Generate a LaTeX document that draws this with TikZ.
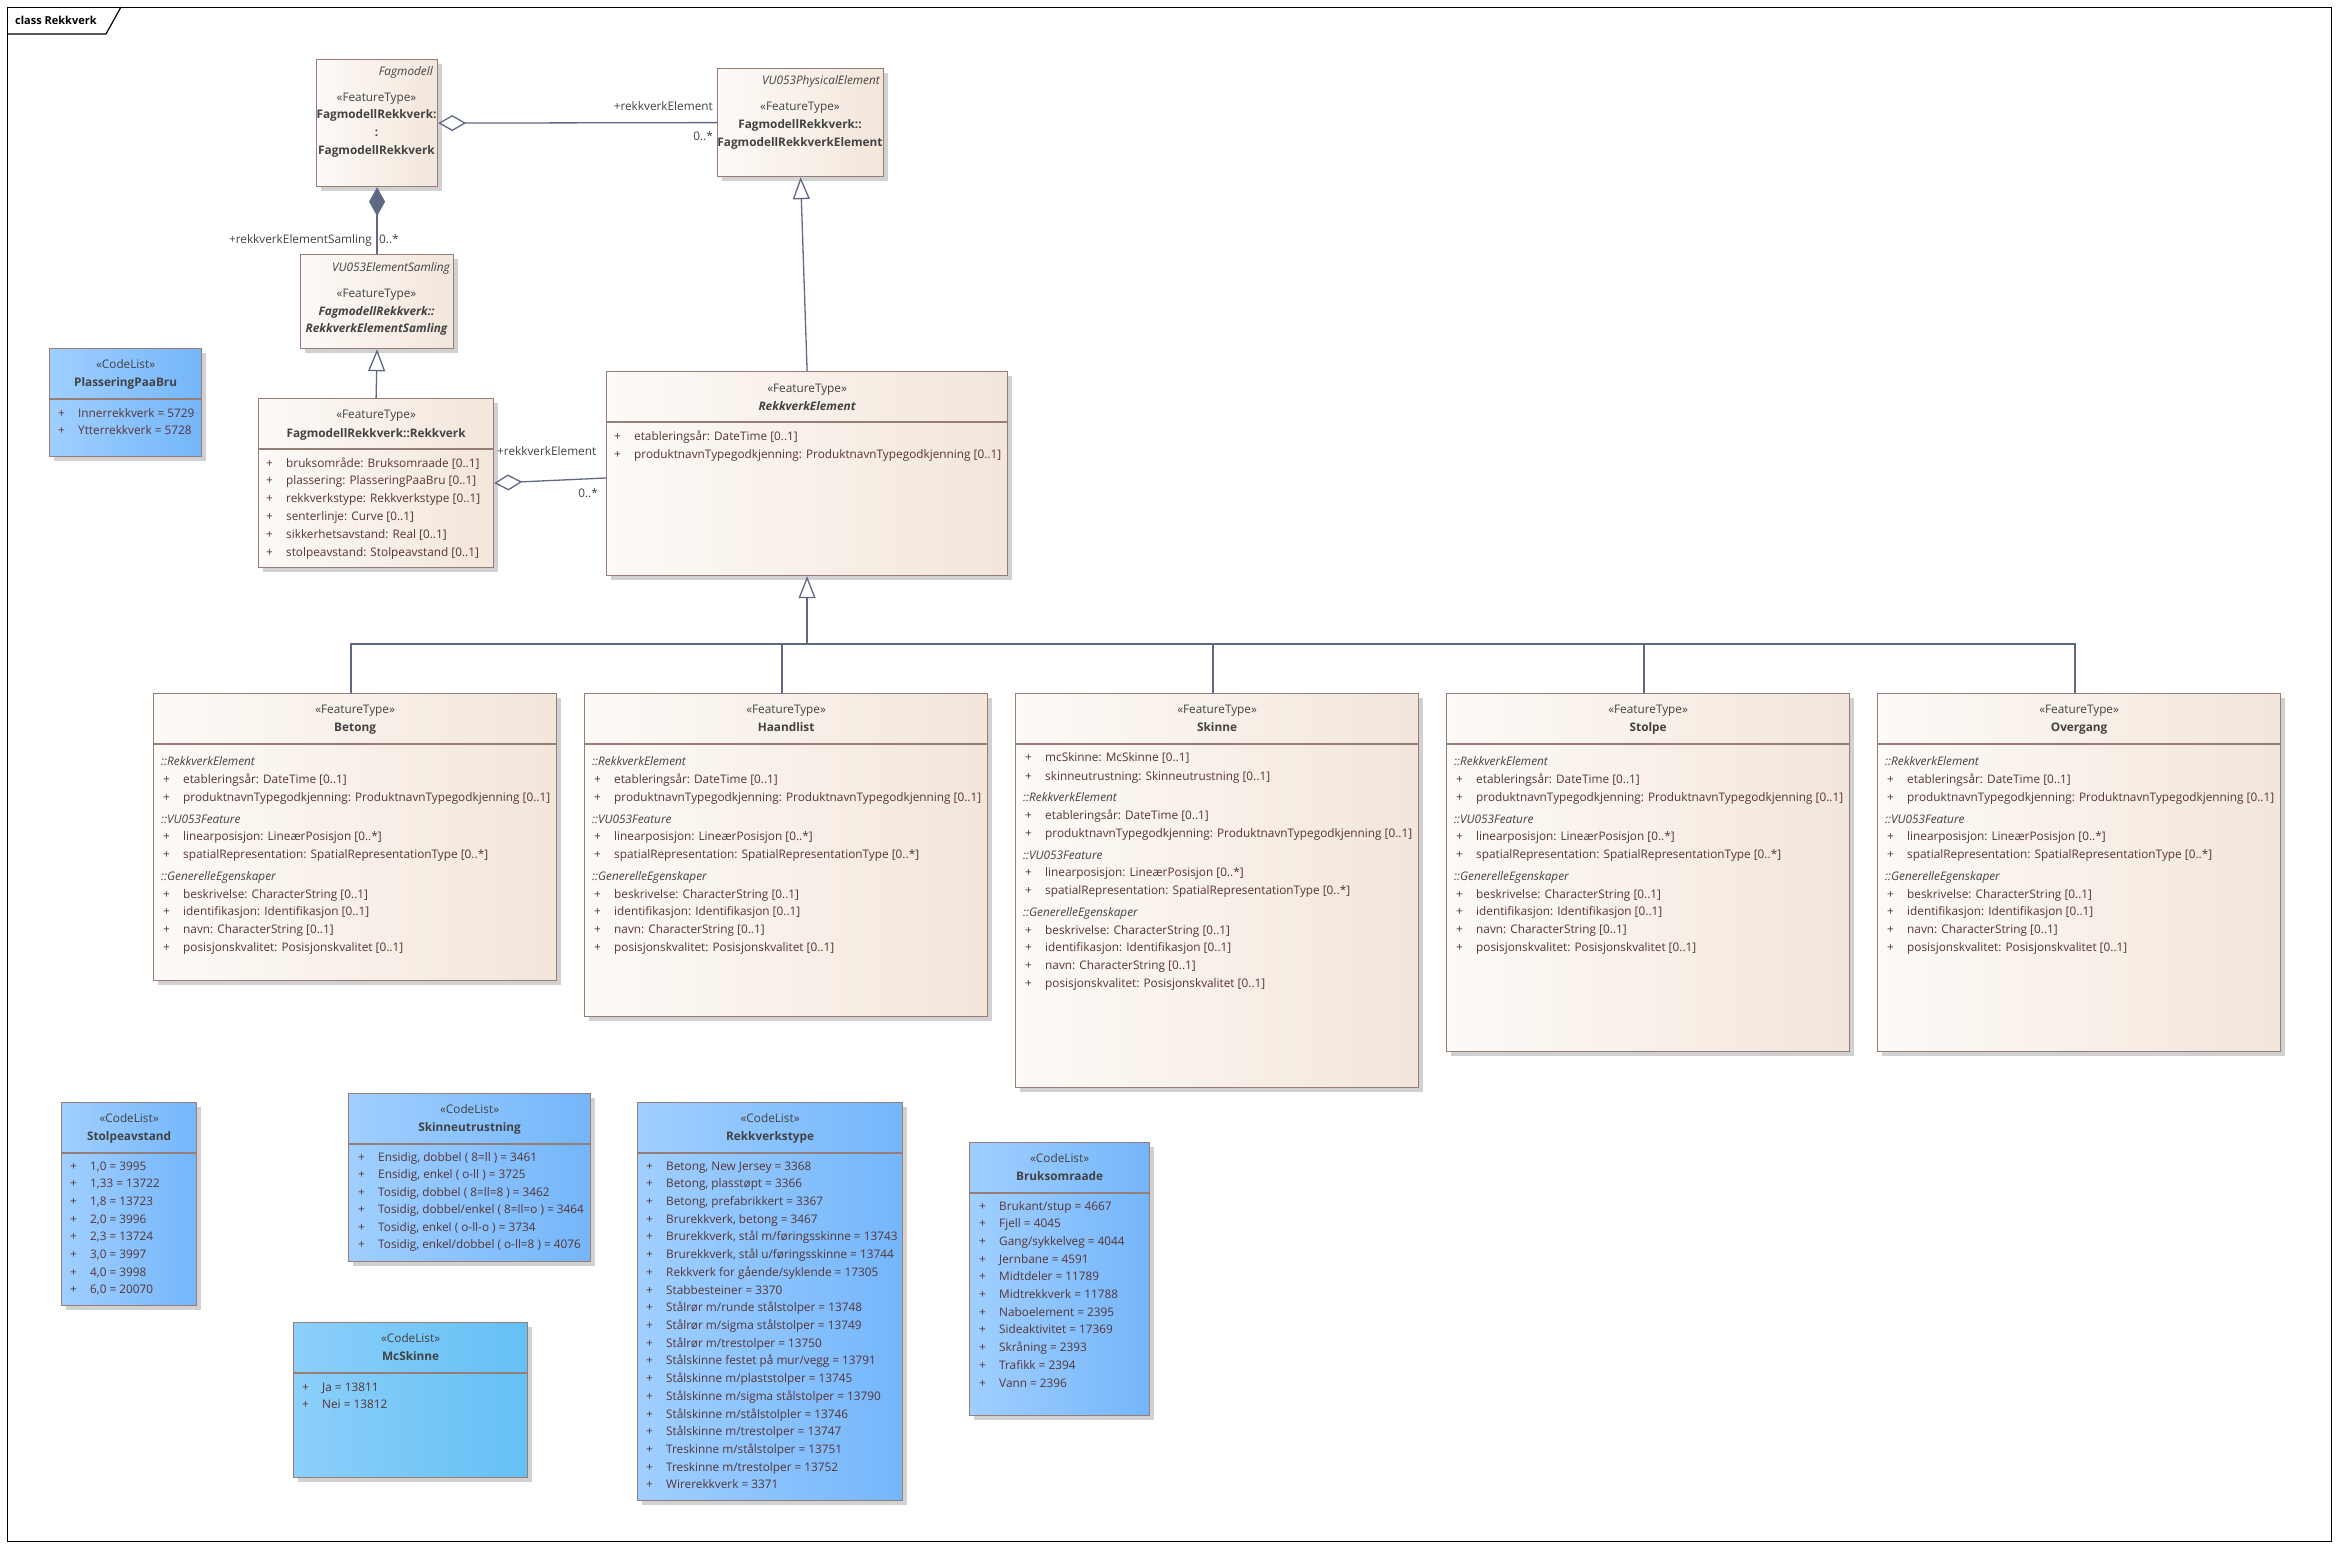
\documentclass[tikz,border=0pt]{standalone}
\usepackage{fontspec}
\setmainfont{Open Sans}
\usetikzlibrary{positioning,shadows,arrows.meta}

\definecolor{ftleft}{RGB}{253,250,247}
\definecolor{ftright}{RGB}{243,230,219}
\definecolor{clleft}{RGB}{160,207,255}
\definecolor{clright}{RGB}{116,182,250}
\definecolor{mcleft}{RGB}{140,207,250}
\definecolor{mcright}{RGB}{100,192,245}
\definecolor{boxline}{RGB}{150,125,120}
\definecolor{conline}{RGB}{95,105,132}
\definecolor{itemtext}{RGB}{88,52,52}
\definecolor{headtext}{RGB}{66,66,66}

\newcommand{\itmfont}{\fontsize{11.8}{14}\selectfont}
\newcommand{\pl}{\makebox[20pt][l]{+}}

% arvede attributter for elementklassene, #1 klasse, #2 avstand til forste gruppe
\newcommand{\arvede}[2]{%
  \node[grp] (#1-g1) at ([shift={(8,#2)}]#1.north west)      {::RekkverkElement};
  \node[itm] (#1-a1) at ([shift={(10,#2+18)}]#1.north west)  {\pl etableringsår: DateTime [0..1]};
  \node[itm] (#1-a2) at ([shift={(10,#2+36)}]#1.north west)  {\pl produktnavnTypegodkjenning: ProduktnavnTypegodkjenning [0..1]};
  \node[grp] (#1-g2) at ([shift={(8,#2+58)}]#1.north west)   {::VU053Feature};
  \node[itm] (#1-a3) at ([shift={(10,#2+75)}]#1.north west)  {\pl linearposisjon: LineærPosisjon [0..*]};
  \node[itm] (#1-a4) at ([shift={(10,#2+93)}]#1.north west)  {\pl spatialRepresentation: SpatialRepresentationType [0..*]};
  \node[grp] (#1-g3) at ([shift={(8,#2+115)}]#1.north west)  {::GenerelleEgenskaper};
  \node[itm] (#1-a5) at ([shift={(10,#2+133)}]#1.north west) {\pl beskrivelse: CharacterString [0..1]};
  \node[itm] (#1-a6) at ([shift={(10,#2+150)}]#1.north west) {\pl identifikasjon: Identifikasjon [0..1]};
  \node[itm] (#1-a7) at ([shift={(10,#2+168)}]#1.north west) {\pl navn: CharacterString [0..1]};
  \node[itm] (#1-a8) at ([shift={(10,#2+186)}]#1.north west) {\pl posisjonskvalitet: Posisjonskvalitet [0..1]};
}

\begin{document}
\begin{tikzpicture}
	[x=1pt, y=-1pt, font=\itmfont,
	featbox/.style	= {draw=boxline, line width=1.2pt, left color=ftleft, right color=ftright, inner sep=0pt, anchor=north west,
						drop shadow={shadow xshift=4pt, shadow yshift=-4pt, fill=black!18, opacity=1}},
	codebox/.style	= {featbox, left color=clleft, right color=clright},
	divider/.style	= {draw=boxline, line width=1.2pt},
	txt/.style		= {anchor=base, inner sep=0pt, yshift=-4pt, text=headtext},
	cname/.style	= {txt, font=\itmfont\bfseries},
	pkg/.style		= {txt, anchor=base east, font=\itmfont\itshape},
	itm/.style		= {anchor=base west, inner sep=0pt, yshift=-4pt, text=itemtext},
	grp/.style		= {itm, text=headtext, font=\itmfont\itshape},
	lbl/.style		= {inner sep=0pt, yshift=-4pt, text=headtext},
	conn/.style		= {draw=conline, line width=1.3pt},
	aggr/.style		= {conn, {Diamond[length=28pt, width=16pt, fill=white]}-},
	komp/.style		= {conn, {Diamond[length=29pt, width=16pt, fill=conline]}-},
	arv/.style		= {conn, -{Triangle[length=22pt, width=17pt, fill=white]}}]

	\useasboundingbox (0,0) rectangle (2339,1549);

	% ramme
	\node [draw, line width=1.3pt, inner sep=0pt, anchor=north west, minimum width=2324pt, minimum height=1534pt] (ramme) at (7,7) {};
	\draw [line width=1.2pt] (7,34) -- (106,34) -- (121,7);
	\node [anchor=base west, inner sep=0pt, yshift=-4pt, font=\fontsize{11}{13}\selectfont\bfseries] (tittel) at (15,21) {class Rekkverk};

	% fagmodell og rekkverkelement
	\node [featbox, minimum width=121pt, minimum height=127pt] (fagmod) at (316,59) {};
	\node [pkg]   (fagmod-p)  at (433,72)  {Fagmodell};
	\node [txt]   (fagmod-s)  at (376.5,98)  {«FeatureType»};
	\node [cname] (fagmod-n1) at (376.5,115) {FagmodellRekkverk:};
	\node [cname] (fagmod-n2) at (376.5,133) {:};
	\node [cname] (fagmod-n3) at (376.5,151) {FagmodellRekkverk};

	\node [featbox, minimum width=166pt, minimum height=108pt] (physel) at (717,68) {};
	\node [pkg]   (physel-p)  at (880,81)  {VU053PhysicalElement};
	\node [txt]   (physel-s)  at (800,107) {«FeatureType»};
	\node [cname] (physel-n1) at (800,125) {FagmodellRekkverk::};
	\node [cname] (physel-n2) at (800,143) {FagmodellRekkverkElement};

	\node [featbox, minimum width=153pt, minimum height=94pt] (samling) at (300,254) {};
	\node [pkg]   (samling-p)  at (450,267)   {VU053ElementSamling};
	\node [txt]   (samling-s)  at (376.5,293) {«FeatureType»};
	\node [cname, font=\itmfont\bfseries\itshape] (samling-n1) at (376.5,311) {FagmodellRekkverk::};
	\node [cname, font=\itmfont\bfseries\itshape] (samling-n2) at (376.5,328) {RekkverkElementSamling};

	\node [featbox, minimum width=235pt, minimum height=169pt] (rekkverk) at (258,398) {};
	\node [txt]   (rekkverk-s) at ([yshift=-16pt]rekkverk.north) {«FeatureType»};
	\node [cname] (rekkverk-n) at ([yshift=-35pt]rekkverk.north) {FagmodellRekkverk::Rekkverk};
	\draw [divider] ([yshift=-51pt]rekkverk.north west) -- ([yshift=-51pt]rekkverk.north east);
	\foreach \t [count=\i from 0] in {bruksområde: Bruksomraade [0..1], plassering: PlasseringPaaBru [0..1],
			rekkverkstype: Rekkverkstype [0..1], senterlinje: Curve [0..1],
			sikkerhetsavstand: Real [0..1], stolpeavstand: Stolpeavstand [0..1]}
		\node [itm] (rekkverk-a\i) at (266,463+17.8*\i) {\pl\t};

	\node [featbox, minimum width=401pt, minimum height=204pt] (element) at (606,371) {};
	\node [txt]   (element-s) at ([yshift=-17pt]element.north) {«FeatureType»};
	\node [cname, font=\itmfont\bfseries\itshape] (element-n) at ([yshift=-35pt]element.north) {RekkverkElement};
	\draw [divider] ([yshift=-51pt]element.north west) -- ([yshift=-51pt]element.north east);
	\node [itm] (element-a1) at (614,436) {\pl etableringsår: DateTime [0..1]};
	\node [itm] (element-a2) at (614,454) {\pl produktnavnTypegodkjenning: ProduktnavnTypegodkjenning [0..1]};

	% elementtypene
	\node [featbox, minimum width=403pt, minimum height=287pt] (betong) at (153,693) {};
	\node [featbox, minimum width=403pt, minimum height=323pt, right=26.8pt of betong.north east, anchor=north west] (haandlist) {};
	\node [featbox, minimum width=403pt, minimum height=394pt, right=26.8pt of haandlist.north east, anchor=north west] (skinne) {};
	\node [featbox, minimum width=403pt, minimum height=358pt, right=26.8pt of skinne.north east, anchor=north west] (stolpe) {};
	\node [featbox, minimum width=403pt, minimum height=358pt, right=26.8pt of stolpe.north east, anchor=north west] (overgang) {};

	\foreach \k/\n in {betong/Betong, haandlist/Haandlist, skinne/Skinne, stolpe/Stolpe, overgang/Overgang} {
		\node [txt]   (\k-s) at ([yshift=-16pt]\k.north) {«FeatureType»};
		\node [cname] (\k-n) at ([yshift=-34pt]\k.north) {\n};
		\draw [divider] ([yshift=-51pt]\k.north west) -- ([yshift=-51pt]\k.north east);
	}

	\arvede{betong}{68}
	\arvede{haandlist}{68}
	\arvede{stolpe}{68}
	\arvede{overgang}{68}
	\node [itm] (skinne-e1) at ([shift={(10,64)}]skinne.north west) {\pl mcSkinne: McSkinne [0..1]};
	\node [itm] (skinne-e2) at ([shift={(10,83)}]skinne.north west) {\pl skinneutrustning: Skinneutrustning [0..1]};
	\arvede{skinne}{104}

	% kodelister
	\node [codebox, minimum width=152pt, minimum height=108pt] (plassering) at (49,348) {};
	\node [codebox, minimum width=135pt, minimum height=203pt] (stolpeavst) at (61,1102) {};
	\node [codebox, minimum width=242pt, minimum height=168pt] (skinneutr) at (348,1093) {};
	\node [codebox, minimum width=234pt, minimum height=155pt, left color=mcleft, right color=mcright] (mcskinne) at (293,1322) {};
	\node [codebox, minimum width=265pt, minimum height=398pt] (rekktype) at (637,1102) {};
	\node [codebox, minimum width=180pt, minimum height=273pt] (bruk) at (969,1142) {};

	\foreach \k/\n in {plassering/PlasseringPaaBru, stolpeavst/Stolpeavstand, skinneutr/Skinneutrustning,
			mcskinne/McSkinne, rekktype/Rekkverkstype, bruk/Bruksomraade} {
		\node [txt]   (\k-s) at ([yshift=-16pt]\k.north) {«CodeList»};
		\node [cname] (\k-n) at ([yshift=-34pt]\k.north) {\n};
		\draw [divider] ([yshift=-51pt]\k.north west) -- ([yshift=-51pt]\k.north east);
	}

	\foreach \t [count=\i from 0] in {Innerrekkverk = 5729, Ytterrekkverk = 5728}
		\node [itm] (plassering-a\i) at (58,413+17.7*\i) {\pl\t};
	\foreach \t [count=\i from 0] in {{1,0 = 3995},{1,33 = 13722},{1,8 = 13723},{2,0 = 3996},
			{2,3 = 13724},{3,0 = 3997},{4,0 = 3998},{6,0 = 20070}}
		\node [itm] (stolpeavst-a\i) at (70,1166+17.7*\i) {\pl\t};
	\foreach \t [count=\i from 0] in {{Ensidig, dobbel ( 8=ll ) = 3461},{Ensidig, enkel ( o-ll ) = 3725},
			{Tosidig, dobbel ( 8=ll=8 ) = 3462},{Tosidig, dobbel/enkel ( 8=ll=o ) = 3464},
			{Tosidig, enkel ( o-ll-o ) = 3734},{Tosidig, enkel/dobbel ( o-ll=8 ) = 4076}}
		\node [itm] (skinneutr-a\i) at (358,1157+17.5*\i) {\pl\t};
	\foreach \t [count=\i from 0] in {Ja = 13811, Nei = 13812}
		\node [itm] (mcskinne-a\i) at (302,1387+17.7*\i) {\pl\t};
	\foreach \t [count=\i from 0] in {{Betong, New Jersey = 3368},{Betong, plasstøpt = 3366},
			{Betong, prefabrikkert = 3367},{Brurekkverk, betong = 3467},
			{Brurekkverk, stål m/føringsskinne = 13743},{Brurekkverk, stål u/føringsskinne = 13744},
			{Rekkverk for gående/syklende = 17305},{Stabbesteiner = 3370},
			{Stålrør m/runde stålstolper = 13748},{Stålrør m/sigma stålstolper = 13749},
			{Stålrør m/trestolper = 13750},{Stålskinne festet på mur/vegg = 13791},
			{Stålskinne m/plaststolper = 13745},{Stålskinne m/sigma stålstolper = 13790},
			{Stålskinne m/stålstolpler = 13746},{Stålskinne m/trestolper = 13747},
			{Treskinne m/stålstolper = 13751},{Treskinne m/trestolper = 13752},{Wirerekkverk = 3371}}
		\node [itm] (rekktype-a\i) at (646,1166+17.72*\i) {\pl\t};
	\foreach \t [count=\i from 0] in {{Brukant/stup = 4667},{Fjell = 4045},{Gang/sykkelveg = 4044},
			{Jernbane = 4591},{Midtdeler = 11789},{Midtrekkverk = 11788},{Naboelement = 2395},
			{Sideaktivitet = 17369},{Skråning = 2393},{Trafikk = 2394},{Vann = 2396}}
		\node [itm] (bruk-a\i) at (979,1206+17.7*\i) {\pl\t};

	% forbindelser
	\draw [aggr] (fagmod.east) -- (physel.west);
	\node [lbl, anchor=base east] (l-elem1) at (713,107) {+rekkverkElement};
	\node [lbl, anchor=base east] (l-mult1) at (713,137) {0..*};

	\draw [komp] (fagmod.south) -- (samling.north);
	\node [lbl, anchor=base east] (l-saml) at (372,239) {+rekkverkElementSamling};
	\node [lbl, anchor=base west] (l-mult2) at (379,239) {0..*};

	\draw [arv] (rekkverk.north) -- (samling.south);

	\coordinate (aggend) at (606,478);
	\draw [aggr] (rekkverk.east) -- (aggend);
	\node [lbl, anchor=base west] (l-elem2) at (497,451) {+rekkverkElement};
	\node [lbl, anchor=base east] (l-mult3) at (598,493) {0..*};

	\draw [arv] (element.north) -- (physel.south);

	\coordinate (buss) at (element.south |- 0,644);
	\draw [arv] (buss) -- (element.south);
	\draw [conn] ([xshift=-4pt]betong.north) -- ([xshift=-4pt]betong.north |- buss) -- ([xshift=-4pt]overgang.north |- buss) -- ([xshift=-4pt]overgang.north);
	\foreach \k in {haandlist, skinne, stolpe}
		\draw [conn] ([xshift=-4pt]\k.north) -- ([xshift=-4pt]\k.north |- buss);
\end{tikzpicture}
\end{document}
